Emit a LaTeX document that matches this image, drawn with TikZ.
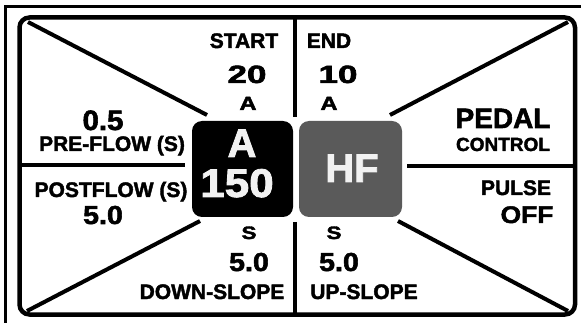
\documentclass[tikz,border=0pt]{standalone}
\usepackage{fontspec}
\setmainfont{Liberation Sans}[BoldFeatures={FakeBold=2}]
\definecolor{hfgray}{RGB}{90,90,90}
\definecolor{keytext}{RGB}{242,242,242}
\newcommand{\wider}[2]{\scalebox{#1}[1]{#2}}

\begin{document}
\begin{tikzpicture}[x=1pt, y=-1pt,
	lbl/.style={anchor=base, inner sep=0pt, font=\bfseries\fontsize{#1}{#1}\selectfont},
	keylbl/.style={lbl=#1, text=keytext},
	frame/.style={line width=4.5pt, rounded corners=10pt},
	divider/.style={line width=4pt},
	keybox/.style={rounded corners=10pt, minimum width=101pt, minimum height=96pt, inner sep=0pt}]
	\useasboundingbox (0,0) rectangle (581,323);
	
	\draw[line width=2.5pt] (5.5,323) -- (5.5,6.5) -- (581,6.5);
	\draw[frame] (19.5,17.5) rectangle (575,314.5);
	
	\draw[divider] (28,22) -- (207,115);
	\draw[divider] (568,22) -- (390,115);
	\draw[divider] (27,311) -- (200,221);
	\draw[divider] (568,311) -- (398,221);
	
	\draw[divider] (295,17.5) -- (295,117);
	\draw[divider] (295,222) -- (295,314.5);
	\draw[divider] (19.5,165.5) -- (185,165.5);
	\draw[divider] (407,166) -- (575,166);
	
	\node[keybox, fill=black] (ampkey) at (242.5,169) {};
	\node[keybox, fill=hfgray, minimum width=103pt] (hfkey) at (350.5,169) {};
	\node[keylbl=40] (ampunit) at (242,157) {A};
	\node[keylbl=40] (ampval) at (237,197) {\wider{1.1}{150}};
	\node[keylbl=40] (hflbl) at (352,182) {HF};
	
	\node[lbl=21] (start) at (244,48) {START};
	\node[lbl=25] (startval) at (247,83) {\wider{1.4}{20}};
	\node[lbl=19] (startunit) at (248,110) {\wider{1.25}{A}};
	\node[lbl=21] (end) at (329,48) {END};
	\node[lbl=25] (endval) at (338,83) {\wider{1.4}{10}};
	\node[lbl=19] (endunit) at (329,110) {\wider{1.25}{A}};
	
	\node[lbl=28] (preval) at (103,130) {\wider{1.05}{0.5}};
	\node[lbl=21] (pre) at (112,151) {PRE-FLOW (S)};
	\node[lbl=21] (post) at (111,197) {POSTFLOW (S)};
	\node[lbl=26] (postval) at (103,224) {\wider{1.1}{5.0}};
	
	\node[lbl=18] (downunit) at (249,239) {\wider{1.25}{S}};
	\node[lbl=26] (downval) at (249,271) {\wider{1.1}{5.0}};
	\node[lbl=21] (down) at (212,299) {DOWN-SLOPE};
	\node[lbl=18] (upunit) at (334,239) {\wider{1.25}{S}};
	\node[lbl=26] (upval) at (339,271) {\wider{1.1}{5.0}};
	\node[lbl=21] (up) at (364,299) {UP-SLOPE};
	
	\node[lbl=28] (pedal) at (503,128) {PEDAL};
	\node[lbl=19] (control) at (503,151) {CONTROL};
	\node[lbl=21] (pulse) at (516,195) {PULSE};
	\node[lbl=24] (pulseval) at (527,223) {\wider{1.1}{OFF}};
\end{tikzpicture}
\end{document}
